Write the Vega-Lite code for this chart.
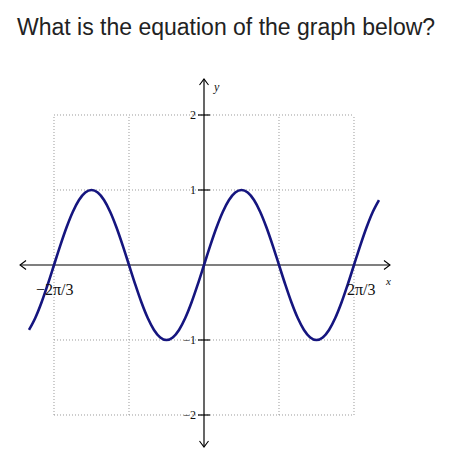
{
  "$schema": "https://vega.github.io/schema/vega-lite/v6.json",
  "autosize": "none",
  "padding": {"top": 45, "left": 0, "right": 0, "bottom": 0},
  "width": 470,
  "height": 417,
  "background": "white",
  "title": {
    "text": "What is the equation of the graph below?",
    "anchor": "start",
    "frame": "group",
    "dx": 17,
    "offset": -13,
    "baseline": "alphabetic",
    "font": "Liberation Sans",
    "fontSize": 23,
    "fontWeight": "normal",
    "color": "#222222"
  },
  "config": {"view": {"stroke": null}},
  "datasets": {
    "gridx": [{"u": -2}, {"u": -1}, {"u": 1}, {"u": 2}],
    "gridy": [{"v": -2}, {"v": -1}, {"v": 1}, {"v": 2}],
    "axes": [
      {"x1": -2.453, "x2": 2.48, "y1": 0, "y2": 0},
      {"x1": 0, "x2": 0, "y1": 2.48, "y2": -2.427}
    ],
    "arrows": [
      {"u": -2.453, "v": 0, "dir": "left"},
      {"u": 2.48, "v": 0, "dir": "right"},
      {"u": 0, "v": 2.48, "dir": "up"},
      {"u": 0, "v": -2.427, "dir": "down"}
    ],
    "yticks": [
      {"v": 2, "label": "2"},
      {"v": 1, "label": "1"},
      {"v": -1, "label": "−1"},
      {"v": -2, "label": "−2"}
    ],
    "curve": [
      {"x": -2.3333, "y": -0.866},
      {"x": -2.25, "y": -0.707},
      {"x": -2.1667, "y": -0.5},
      {"x": -2.0833, "y": -0.259},
      {"x": -2, "y": 0},
      {"x": -1.9167, "y": 0.259},
      {"x": -1.8333, "y": 0.5},
      {"x": -1.75, "y": 0.707},
      {"x": -1.6667, "y": 0.866},
      {"x": -1.5833, "y": 0.966},
      {"x": -1.5, "y": 1},
      {"x": -1.4167, "y": 0.966},
      {"x": -1.3333, "y": 0.866},
      {"x": -1.25, "y": 0.707},
      {"x": -1.1667, "y": 0.5},
      {"x": -1.0833, "y": 0.259},
      {"x": -1, "y": 0},
      {"x": -0.9167, "y": -0.259},
      {"x": -0.8333, "y": -0.5},
      {"x": -0.75, "y": -0.707},
      {"x": -0.6667, "y": -0.866},
      {"x": -0.5833, "y": -0.966},
      {"x": -0.5, "y": -1},
      {"x": -0.4167, "y": -0.966},
      {"x": -0.3333, "y": -0.866},
      {"x": -0.25, "y": -0.707},
      {"x": -0.1667, "y": -0.5},
      {"x": -0.0833, "y": -0.259},
      {"x": 0, "y": 0},
      {"x": 0.0833, "y": 0.259},
      {"x": 0.1667, "y": 0.5},
      {"x": 0.25, "y": 0.707},
      {"x": 0.3333, "y": 0.866},
      {"x": 0.4167, "y": 0.966},
      {"x": 0.5, "y": 1},
      {"x": 0.5833, "y": 0.966},
      {"x": 0.6667, "y": 0.866},
      {"x": 0.75, "y": 0.707},
      {"x": 0.8333, "y": 0.5},
      {"x": 0.9167, "y": 0.259},
      {"x": 1, "y": 0},
      {"x": 1.0833, "y": -0.259},
      {"x": 1.1667, "y": -0.5},
      {"x": 1.25, "y": -0.707},
      {"x": 1.3333, "y": -0.866},
      {"x": 1.4167, "y": -0.966},
      {"x": 1.5, "y": -1},
      {"x": 1.5833, "y": -0.966},
      {"x": 1.6667, "y": -0.866},
      {"x": 1.75, "y": -0.707},
      {"x": 1.8333, "y": -0.5},
      {"x": 1.9167, "y": -0.259},
      {"x": 2, "y": 0},
      {"x": 2.0833, "y": 0.259},
      {"x": 2.1667, "y": 0.5},
      {"x": 2.25, "y": 0.707},
      {"x": 2.3333, "y": 0.866}
    ]
  },
  "layer": [
    {
      "data": {"name": "gridx"},
      "mark": {"type": "rule", "color": "#9a9a9a", "strokeWidth": 1, "strokeDash": [1, 2]},
      "encoding": {
        "x": {"field": "u", "type": "quantitative", "scale": {"domain": [-2.72, 3.5467], "nice": false, "zero": false}, "axis": null},
        "y": {"datum": -2, "type": "quantitative", "scale": {"domain": [-2.6267, 2.9333], "nice": false, "zero": false}, "axis": null},
        "y2": {"datum": 2}
      }
    },
    {
      "data": {"name": "gridy"},
      "mark": {"type": "rule", "color": "#9a9a9a", "strokeWidth": 1, "strokeDash": [1, 2]},
      "encoding": {
        "y": {"field": "v", "type": "quantitative"},
        "x": {"datum": -2, "type": "quantitative"},
        "x2": {"datum": 2}
      }
    },
    {
      "data": {"name": "axes"},
      "mark": {"type": "rule", "color": "#000000", "strokeWidth": 1.2},
      "encoding": {
        "x": {"field": "x1", "type": "quantitative"},
        "x2": {"field": "x2"},
        "y": {"field": "y1", "type": "quantitative"},
        "y2": {"field": "y2"}
      }
    },
    {
      "data": {"name": "arrows"},
      "mark": {"type": "point", "filled": false, "stroke": "#000000", "strokeWidth": 1.1, "size": 100, "opacity": 1},
      "encoding": {
        "x": {"field": "u", "type": "quantitative"},
        "y": {"field": "v", "type": "quantitative"},
        "shape": {
          "field": "dir",
          "type": "nominal",
          "scale": {
            "domain": ["left", "right", "up", "down"],
            "range": ["M1.2,-0.9L0,0L1.2,0.9", "M-1.2,-0.9L0,0L-1.2,0.9", "M-0.9,1.2L0,0L0.9,1.2", "M-0.9,-1.2L0,0L0.9,-1.2"]
          },
          "legend": null
        }
      }
    },
    {
      "data": {"name": "yticks"},
      "mark": {"type": "tick", "orient": "horizontal", "color": "#000000", "size": 12, "thickness": 1.2, "opacity": 1},
      "encoding": {
        "x": {"datum": 0, "type": "quantitative"},
        "y": {"field": "v", "type": "quantitative"}
      }
    },
    {
      "data": {"name": "yticks"},
      "mark": {"type": "text", "align": "right", "baseline": "middle", "dx": -8, "font": "Liberation Serif", "fontSize": 12, "color": "#111111"},
      "encoding": {
        "x": {"datum": 0, "type": "quantitative"},
        "y": {"field": "v", "type": "quantitative"},
        "text": {"field": "label"}
      }
    },
    {
      "data": {"name": "curve"},
      "mark": {"type": "line", "color": "#15157f", "strokeWidth": 2.6, "interpolate": "monotone"},
      "encoding": {
        "x": {"field": "x", "type": "quantitative"},
        "y": {"field": "y", "type": "quantitative"},
        "order": {"field": "x", "type": "quantitative"}
      }
    },
    {
      "data": {"values": [{"u": -2, "v": 0, "t": "−2π/3"}]},
      "mark": {"type": "text", "align": "left", "baseline": "middle", "dx": -18, "dy": 25, "font": "Liberation Serif", "fontSize": 16, "color": "#111111"},
      "encoding": {
        "x": {"field": "u", "type": "quantitative"},
        "y": {"field": "v", "type": "quantitative"},
        "text": {"field": "t"}
      }
    },
    {
      "data": {"values": [{"u": 2, "v": 0, "t": "2π/3"}]},
      "mark": {"type": "text", "align": "left", "baseline": "middle", "dx": -7, "dy": 25, "font": "Liberation Serif", "fontSize": 16, "color": "#111111"},
      "encoding": {
        "x": {"field": "u", "type": "quantitative"},
        "y": {"field": "v", "type": "quantitative"},
        "text": {"field": "t"}
      }
    },
    {
      "data": {"values": [{"u": 2.48, "v": 0, "t": "x"}]},
      "mark": {"type": "text", "align": "left", "baseline": "middle", "dx": -4, "dy": 17, "font": "Liberation Serif", "fontSize": 11, "fontStyle": "italic", "color": "#111111"},
      "encoding": {
        "x": {"field": "u", "type": "quantitative"},
        "y": {"field": "v", "type": "quantitative"},
        "text": {"field": "t"}
      }
    },
    {
      "data": {"values": [{"u": 0, "v": 2.48, "t": "y"}]},
      "mark": {"type": "text", "align": "left", "baseline": "middle", "dx": 10, "dy": 8, "font": "Liberation Serif", "fontSize": 12, "fontStyle": "italic", "color": "#111111"},
      "encoding": {
        "x": {"field": "u", "type": "quantitative"},
        "y": {"field": "v", "type": "quantitative"},
        "text": {"field": "t"}
      }
    }
  ]
}
